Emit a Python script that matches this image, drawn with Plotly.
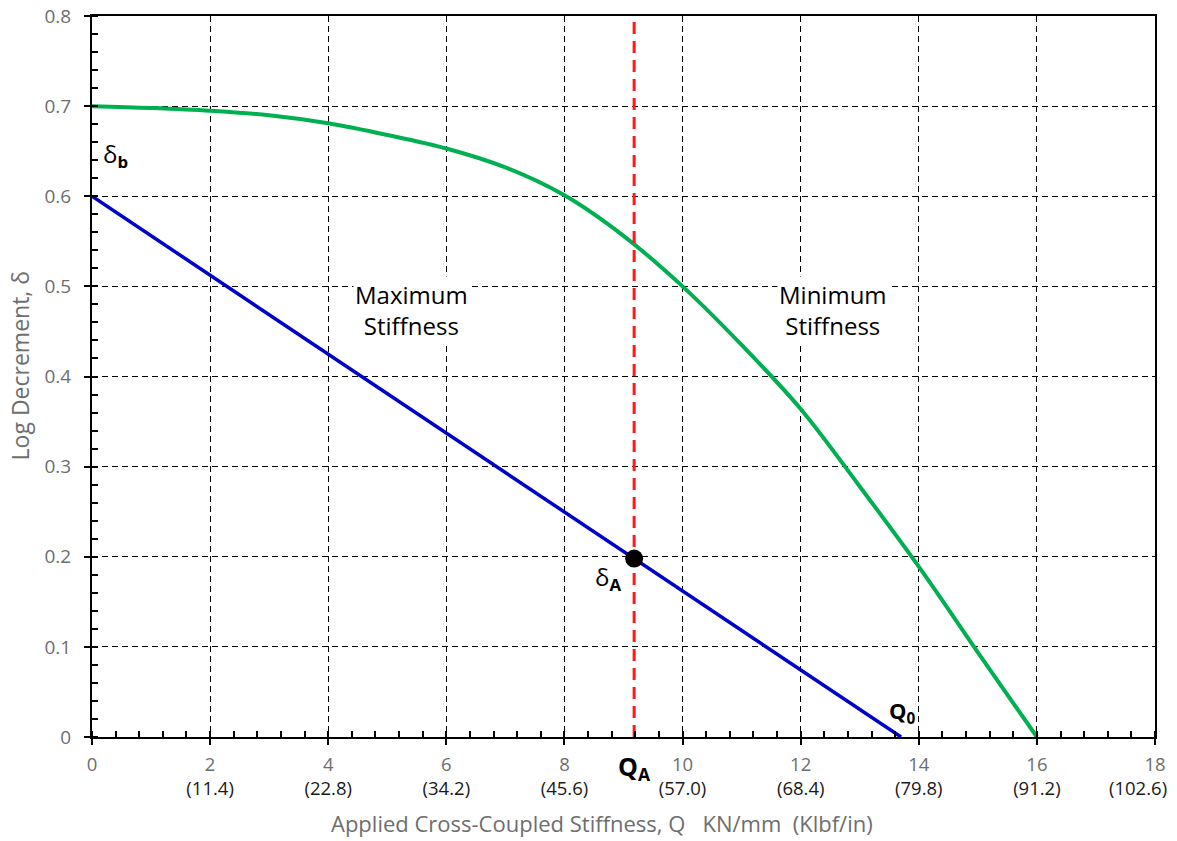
import plotly.graph_objects as go

# ---- data ----
green_x = [0, 1, 2, 3, 4, 5, 6, 7, 8, 9, 10, 11, 12, 13, 14, 15, 16]
green_y = [0.700, 0.698, 0.695, 0.690, 0.681, 0.668, 0.653, 0.632, 0.601, 0.556, 0.500, 0.435, 0.364, 0.278, 0.189, 0.094, 0.0]

blue_x = [0, 13.7]
blue_y = [0.6, 0.0]

qa_x = 9.18
qa_delta = 0.198

x_ticks = [0, 2, 4, 6, 8, 10, 12, 14, 16, 18]
x_klbf = ["", "(11.4)", "(22.8)", "(34.2)", "(45.6)", "(57.0)", "(68.4)", "(79.8)", "(91.2)", "(102.6)"]
y_ticks = [0, 0.1, 0.2, 0.3, 0.4, 0.5, 0.6, 0.7, 0.8]
y_labels = ["0", "0.1", "0.2", "0.3", "0.4", "0.5", "0.6", "0.7", "0.8"]

FONT = "'Open Sans', sans-serif"
GREY = "#6e6e6e"
DARK = "#1a1a1a"

x_text = []
for v, k in zip(x_ticks, x_klbf):
    if not k or v == x_ticks[-1]:
        x_text.append(f"{v}<br> ")
    else:
        x_text.append(f"{v}<br><span style='color:{DARK}'>{k}</span>")

fig = go.Figure()

fig.add_trace(go.Scatter(x=green_x, y=green_y, mode="lines",
                         line=dict(color="#00b050", width=4, shape="spline", smoothing=1.0),
                         hoverinfo="skip", showlegend=False))
fig.add_trace(go.Scatter(x=blue_x, y=blue_y, mode="lines",
                         line=dict(color="#0000cc", width=3.5),
                         hoverinfo="skip", showlegend=False))
fig.add_trace(go.Scatter(x=[qa_x, qa_x], y=[0, 0.8], mode="lines",
                         line=dict(color="#ff1a1a", width=3, dash="12px,7px"),
                         hoverinfo="skip", showlegend=False))
fig.add_trace(go.Scatter(x=[qa_x], y=[qa_delta], mode="markers",
                         marker=dict(color="black", size=18),
                         hoverinfo="skip", showlegend=False))

annots = [
    dict(x=0.16, y=0.646, text="δ<sub><b>b</b></sub>", xanchor="left", size=24),
    dict(x=8.74, y=0.176, text="δ<sub><b>A</b></sub>", size=24),
    dict(x=13.72, y=0.028, text="<b>Q<sub>0</sub></b>", size=22),
    dict(x=5.41, y=0.474, text="Maximum<br>Stiffness", size=24, bgcolor="white"),
    dict(x=12.55, y=0.474, text="Minimum<br>Stiffness", size=24, bgcolor="white"),
]
for a in annots:
    fig.add_annotation(xref="x", yref="y", showarrow=False,
                       x=a["x"], y=a["y"], text=a["text"],
                       xanchor=a.get("xanchor", "center"), yanchor="middle",
                       bgcolor=a.get("bgcolor", "rgba(0,0,0,0)"),
                       font=dict(family=FONT, color="black", size=a["size"]))

fig.add_annotation(xref="x", yref="paper", x=qa_x, y=-0.042, showarrow=False,
                   text="<b>Q<sub>A</sub></b>", yanchor="middle",
                   font=dict(family=FONT, color="black", size=25))

# last secondary tick label, shifted left to stay inside the page
fig.add_annotation(xref="x", yref="paper", x=x_ticks[-1], y=-0.07, showarrow=False,
                   text=x_klbf[-1], xanchor="right", yanchor="middle", xshift=14,
                   font=dict(family=FONT, color=DARK, size=18.5))

# axis titles
fig.add_annotation(xref="paper", yref="paper", x=0.4795, y=-0.119, showarrow=False,
                   text="Applied Cross-Coupled Stiffness, Q   KN/mm  (Klbf/in)",
                   xanchor="center", yanchor="middle",
                   font=dict(family=FONT, color=GREY, size=22))
fig.add_annotation(xref="paper", yref="paper", x=-0.068, y=0.515, showarrow=False,
                   text="Log Decrement, δ", textangle=-90,
                   xanchor="center", yanchor="middle",
                   font=dict(family=FONT, color=GREY, size=23))

fig.update_layout(
    width=1177, height=841,
    margin=dict(l=92, r=22, t=16, b=104, autoexpand=False),
    plot_bgcolor="white", paper_bgcolor="white",
    font=dict(family=FONT, size=19, color=GREY),
)
fig.update_xaxes(
    range=[0, 18], tickvals=x_ticks, ticktext=x_text, automargin=False,
    showline=True, linecolor="black", linewidth=2, mirror=True,
    showgrid=True, gridcolor="black", gridwidth=1.3, griddash="6px,4px",
    zeroline=False,
    ticks="outside", ticklen=6, tickwidth=2, tickcolor="black",
    tickfont=dict(size=18.5, color=GREY), ticklabeloverflow="allow",
    ticklabelstandoff=4,
    minor=dict(dtick=0.4, ticks="inside", ticklen=6, tickwidth=2, tickcolor="black", showgrid=False),
)
fig.update_yaxes(
    range=[0, 0.8], tickvals=y_ticks, ticktext=y_labels, automargin=False,
    showline=True, linecolor="black", linewidth=2, mirror=True,
    showgrid=True, gridcolor="black", gridwidth=1.3, griddash="6px,4px",
    zeroline=False,
    ticks="outside", ticklen=6, tickwidth=2, tickcolor="black",
    tickfont=dict(size=19, color=GREY),
    ticklabelstandoff=9,
    minor=dict(dtick=0.02, ticks="inside", ticklen=6, tickwidth=2, tickcolor="black", showgrid=False),
)

fig.write_html("out.html")
